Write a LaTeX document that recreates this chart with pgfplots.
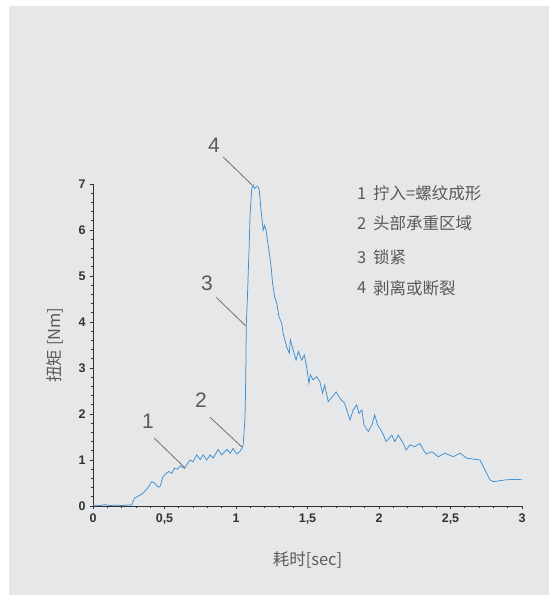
\documentclass[border=0pt]{standalone}
\usepackage{fontspec}
\setmainfont{Liberation Sans}
\newfontfamily\cjk{Noto Sans CJK SC}
\usepackage{pgfplots}
\pgfplotsset{compat=1.18}
\definecolor{panel}{HTML}{E6E7E9}
\definecolor{txtgray}{HTML}{5A5A5A}
\definecolor{axgray}{HTML}{333333}
\definecolor{curve}{HTML}{3B8FD1}
\definecolor{anngray}{HTML}{707070}
\begin{document}
\begin{tikzpicture}
\fill[white] (-93pt,-89pt) rectangle (456pt,506pt);
\fill[panel] (-84pt,-89pt) rectangle (456pt,500pt);
\begin{axis}[
  at={(0pt,0pt)}, anchor=south west,
  scale only axis, width=429pt, height=322pt,
  xmin=0, xmax=3, ymin=0, ymax=7,
  axis x line*=bottom, axis y line*=left,
  axis line style={axgray, line width=0.9pt},
  xtick={0,0.5,...,3}, ytick={0,1,...,7},
  minor x tick num=4, minor y tick num=4,
  tick align=outside,
  major tick length=3pt, minor tick length=2pt,
  tick style={axgray, line width=0.7pt},
  /pgf/number format/assume math mode=true,
  /pgf/number format/use comma,
  ticklabel style={font=\bfseries\fontsize{12.5}{13}\selectfont, text=axgray},
  xticklabel style={yshift=-1pt},
  yticklabel style={xshift=-1pt},
  clip=false,
  xlabel={\cjk\fontsize{16.5}{17}\selectfont 耗时[sec]},
  ylabel={\cjk\fontsize{16.5}{17}\selectfont 扭矩 [Nm]},
  xlabel style={text=txtgray, at={(axis description cs:0.5,0)}, anchor=center, yshift=-54pt},
  ylabel style={text=txtgray, at={(axis description cs:0,0.5)}, anchor=center, yshift=38pt},
]
\addplot[curve, line width=0.75pt] coordinates {
(0,0.02) (0.05,0.01) (0.08,0.03) (0.12,0.01) (0.16,0.02) (0.2,0.01) (0.24,0.02) (0.27,0.02)
(0.29,0.17) (0.32,0.22) (0.35,0.28) (0.38,0.38) (0.41,0.53) (0.43,0.50) (0.457,0.41) (0.47,0.43)
(0.49,0.64) (0.51,0.70) (0.53,0.75) (0.55,0.71) (0.57,0.82) (0.59,0.80) (0.61,0.87) (0.64,0.82)
(0.66,0.92) (0.68,1.0) (0.70,0.96) (0.725,1.11) (0.75,1.01) (0.77,1.11) (0.795,1.0) (0.82,1.11)
(0.84,1.04) (0.875,1.23) (0.90,1.11) (0.935,1.23) (0.96,1.15) (0.98,1.25) (1.005,1.13) (1.025,1.18)
(1.04,1.25) (1.05,1.33) (1.063,1.9) (1.068,2.74) (1.072,3.92) (1.08,4.55) (1.093,5.75) (1.098,6.29)
(1.11,6.9) (1.12,6.98) (1.13,6.9) (1.145,6.95) (1.156,6.93) (1.163,6.86) (1.175,6.43) (1.19,6.0)
(1.2,6.1) (1.21,6.0) (1.226,5.64) (1.243,5.28) (1.256,4.84) (1.27,4.55) (1.285,4.41) (1.30,4.12)
(1.32,3.97) (1.33,3.75) (1.354,3.46) (1.373,3.32) (1.38,3.61) (1.40,3.39) (1.42,3.17) (1.436,3.36)
(1.46,3.17) (1.478,3.28) (1.494,3.03) (1.51,2.67) (1.52,2.85) (1.54,2.74) (1.564,2.81) (1.587,2.70)
(1.606,2.45) (1.62,2.63) (1.645,2.27) (1.676,2.38) (1.70,2.48) (1.727,2.34) (1.76,2.23) (1.797,1.87)
(1.82,2.09) (1.844,2.2) (1.86,2.01) (1.88,2.09) (1.895,1.76) (1.925,1.62) (1.95,1.76) (1.97,1.98)
(1.99,1.76) (2.02,1.62) (2.05,1.40) (2.09,1.54) (2.11,1.40) (2.135,1.54) (2.17,1.36) (2.19,1.22)
(2.217,1.33) (2.25,1.29) (2.287,1.36) (2.31,1.22) (2.33,1.13) (2.37,1.18) (2.415,1.07) (2.46,1.15)
(2.52,1.07) (2.566,1.15) (2.613,1.04) (2.706,1.0) (2.776,0.57) (2.8,0.53) (2.89,0.57) (2.96,0.58) (3.0,0.57)
};
% annotation lines
\draw[anngray, line width=0.8pt] (axis cs:0.909,7.59) -- (axis cs:1.112,6.98);
\draw[anngray, line width=0.8pt] (axis cs:0.86,4.54) -- (axis cs:1.07,3.91);
\draw[anngray, line width=0.8pt] (axis cs:0.818,1.93) -- (axis cs:1.042,1.28);
\draw[anngray, line width=0.8pt] (axis cs:0.427,1.48) -- (axis cs:0.643,0.83);
\tikzset{ann/.style={text=txtgray, font=\fontsize{21}{22}\selectfont, inner sep=0pt}}
\node[ann] at (axis cs:0.846,7.85) {4};
\node[ann] at (axis cs:0.797,4.85) {3};
\node[ann] at (axis cs:0.755,2.30) {2};
\node[ann] at (axis cs:0.385,1.85) {1};
% legend text
\tikzset{leg/.style={text=txtgray, font=\cjk\fontsize{16.5}{17}\selectfont, anchor=west, inner sep=0pt}}
\node[leg] at (axis cs:1.846,6.80) {1};
\node[leg] at (axis cs:1.958,6.80) {拧入=螺纹成形};
\node[leg] at (axis cs:1.846,6.15) {2};
\node[leg] at (axis cs:1.958,6.15) {头部承重区域};
\node[leg] at (axis cs:1.846,5.41) {3};
\node[leg] at (axis cs:1.958,5.41) {锁紧};
\node[leg] at (axis cs:1.846,4.74) {4};
\node[leg] at (axis cs:1.958,4.74) {剥离或断裂};
\end{axis}
\end{tikzpicture}
\end{document}
